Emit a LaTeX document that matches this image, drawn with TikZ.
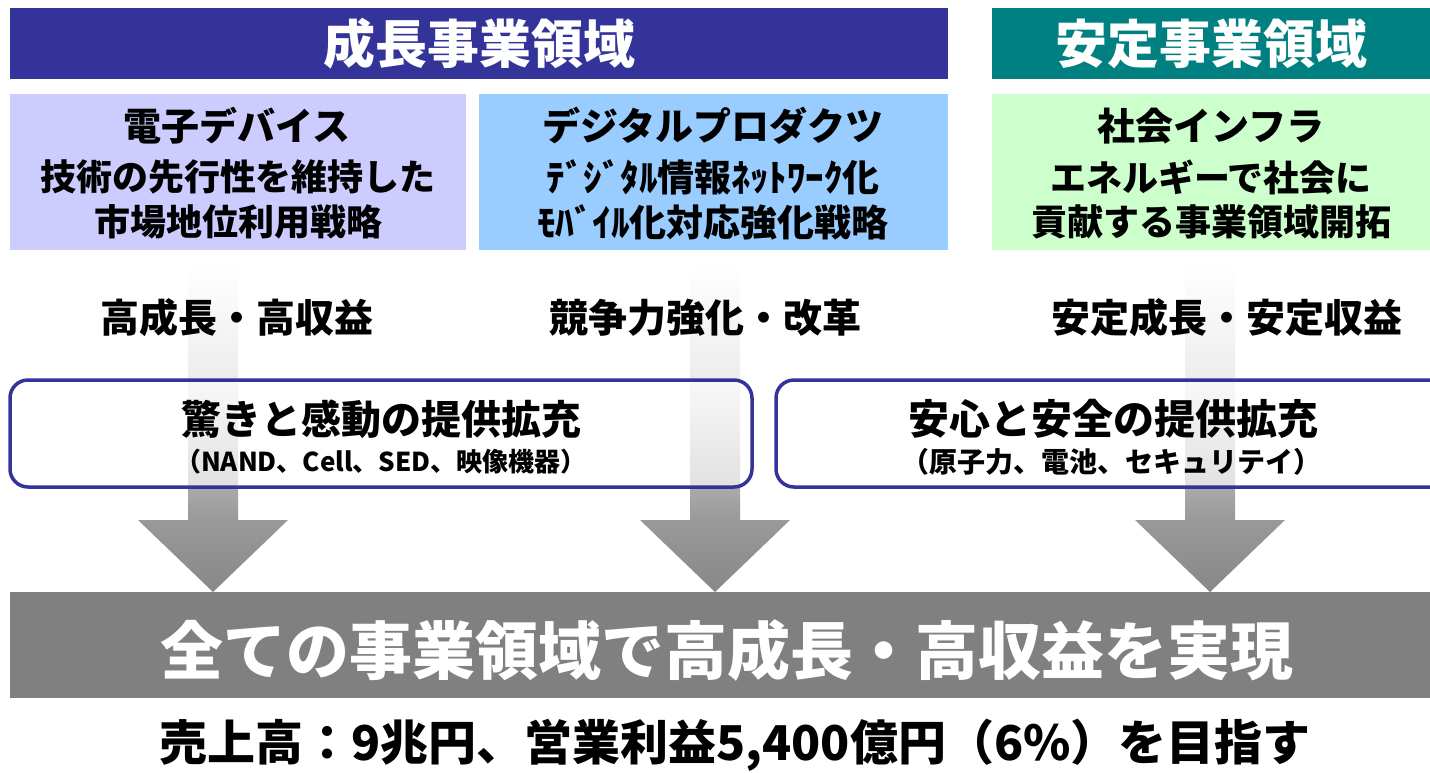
\documentclass[tikz,border=0pt]{standalone}
\usepackage{fontspec}
\newfontfamily\jp{Noto Sans CJK JP}
\definecolor{hblue}{HTML}{333399}
\definecolor{hteal}{HTML}{008080}
\definecolor{boxA}{HTML}{CCCCFF}
\definecolor{boxB}{HTML}{99CCFF}
\definecolor{boxC}{HTML}{CCFFCC}
\definecolor{barGray}{HTML}{808080}
\pgfdeclareverticalshading{arrowshade}{100bp}{%
  rgb(0bp)=(0.533,0.533,0.533); rgb(25bp)=(0.533,0.533,0.533);
  rgb(36bp)=(0.6,0.6,0.6); rgb(41bp)=(0.667,0.667,0.667);
  rgb(57bp)=(0.925,0.925,0.925); rgb(75bp)=(1,1,1); rgb(100bp)=(1,1,1)}
\begin{document}
\begin{tikzpicture}[x=1pt,y=-1pt,
  rect/.style={anchor=north west, inner sep=0pt, outer sep=0pt},
  hdr/.style={rect, text=white, font=\jp\bfseries\fontsize{52}{60}\selectfont},
  txt/.style={inner sep=0pt, outer sep=0pt, text=black, font=\jp\bfseries\fontsize{#1}{#1}\selectfont},
  wtxt/.style={inner sep=0pt, outer sep=0pt, text=white, font=\jp\bfseries\fontsize{#1}{#1}\selectfont},
  rbox/.style={rect, draw=hblue, line width=3.5pt, rounded corners=18pt, fill=white, fill opacity=0.65},
  bigarrow/.style={shading=arrowshade}
]
\useasboundingbox (0,0) rectangle (1430,772);
\fill[white] (0,0) rectangle (1430,772);

% headers
\node[hdr, fill=hblue, minimum width=938pt, minimum height=71pt] (growth) at (10,8) {成長事業領域};
\node[hdr, fill=hteal, minimum width=438pt, minimum height=71pt] (stable) at (992,8) {安定事業領域};

% colored boxes
\node[rect, fill=boxA, minimum width=456pt, minimum height=156pt] (bA) at (10,94) {};
\node[rect, fill=boxB, minimum width=469pt, minimum height=156pt] (bB) at (479,94) {};
\node[rect, fill=boxC, minimum width=438pt, minimum height=156pt] (bC) at (992,94) {};

\node[txt=38] (a1) at (237,126) {電子デバイス};
\node[txt=36] (a2) at (238,177) {技術の先行性を維持した};
\node[txt=36] (a3) at (238,222) {市場地位利用戦略};

\node[txt=38] (b1) at (713,126) {デジタルプロダクツ};
\node[txt=37] (b2) at (713,177) {ﾃﾞｼﾞﾀﾙ情報ﾈｯﾄﾜｰｸ化};
\node[txt=37] (b3) at (713,222) {ﾓﾊﾞｲﾙ化対応強化戦略};

\node[txt=38] (c1) at (1211,126) {社会インフラ};
\node[txt=36] (c2) at (1211,177) {エネルギーで社会に};
\node[txt=36] (c3) at (1211,222) {貢献する事業領域開拓};

% big arrows
\coordinate (t1) at (213,592);
\coordinate (t2) at (715,592);
\coordinate (t3) at (1210,592);
\foreach \t in {t1,t2,t3}{
  \shade[bigarrow] ([shift={(-25,-327)}]\t) -- ([shift={(25,-327)}]\t) -- ([shift={(25,-72)}]\t)
    -- ([shift={(75,-72)}]\t) -- (\t) -- ([shift={(-75,-72)}]\t) -- ([shift={(-25,-72)}]\t) -- cycle;
}

% middle labels
\node[txt=39] (m1) at (237,318) {高成長・高収益};
\node[txt=39] (m2) at (705,318) {競争力強化・改革};
\node[txt=39] (m3) at (1227,318) {安定成長・安定収益};

% rounded boxes
\node[rbox, minimum width=742pt, minimum height=107pt] (pA) at (10,380) {};
\node[rbox, minimum width=680pt, minimum height=107pt] (pB) at (776,380) {};
\node[txt=40] (pA1) at (381,419) {驚きと感動の提供拡充};
\node[txt=26] (pA2) at (381,462) {（NAND、Cell、SED、映像機器）};
\node[txt=41] (pB1) at (1113,419) {安心と安全の提供拡充};
\node[txt=28] (pB2) at (1111,462) {（原子力、電池、セキュリテイ）};

% bottom bar
\node[rect, fill=barGray, minimum width=1420pt, minimum height=106pt] (bar) at (10,592) {};
\node[wtxt=63] (goal) at (727,650) {全ての事業領域で高成長・高収益を実現};

\node[txt=48] (target) at (735,745) {売上高：9兆円、営業利益5,400億円（6\%）を目指す};
\end{tikzpicture}
\end{document}
